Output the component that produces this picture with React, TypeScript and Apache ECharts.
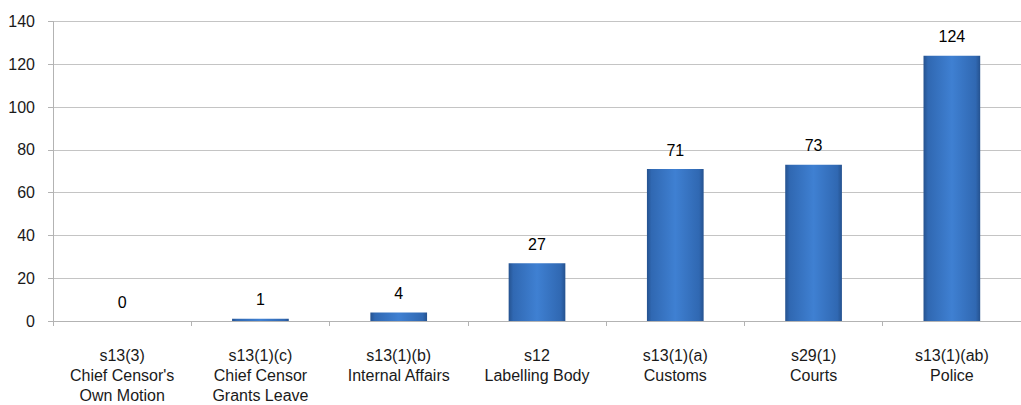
import React, { useEffect, useRef } from "react";
import * as echarts from "echarts";

const categories = [
  "s13(3)\nChief Censor's\nOwn Motion",
  "s13(1)(c)\nChief Censor\nGrants Leave",
  "s13(1)(b)\nInternal Affairs",
  "s12\nLabelling Body",
  "s13(1)(a)\nCustoms",
  "s29(1)\nCourts",
  "s13(1)(ab)\nPolice",
];
const values = [0, 1, 4, 27, 71, 73, 124];
const yTicks = { min: 0, max: 140, interval: 20 };

export default function App() {
  const ref = useRef<HTMLDivElement>(null);
  useEffect(() => {
    if (!ref.current) return;
    const chart = echarts.init(ref.current, undefined, { renderer: "svg" });
    const font = "'Liberation Sans', Arial, sans-serif";
    chart.setOption({
      animation: false,
      backgroundColor: "#ffffff",
      grid: { left: 53, right: -7, top: 21.5, bottom: 82, containLabel: false },
      xAxis: {
        type: "category",
        data: categories,
        boundaryGap: true,
        axisLine: { show: true, lineStyle: { color: "#b3b3b3", width: 1 } },
        axisTick: { show: true, alignWithLabel: false, length: 5, lineStyle: { color: "#b3b3b3" } },
        axisLabel: {
          interval: 0,
          margin: 24,
          color: "#1a1a1a",
          fontFamily: font,
          fontSize: 16,
          lineHeight: 20,
        },
        splitLine: { show: false },
      },
      yAxis: {
        type: "value",
        min: yTicks.min,
        max: yTicks.max,
        interval: yTicks.interval,
        axisLine: { show: true, lineStyle: { color: "#b3b3b3", width: 1 } },
        axisTick: { show: true, length: 5, lineStyle: { color: "#b3b3b3" } },
        axisLabel: { margin: 18, color: "#1a1a1a", fontFamily: font, fontSize: 16 },
        splitLine: { show: true, lineStyle: { color: "#c4c4c4", width: 1 } },
      },
      series: [
        {
          type: "bar",
          data: values,
          barWidth: "41%",
          itemStyle: {
            color: new echarts.graphic.LinearGradient(0, 0, 1, 0, [
              { offset: 0, color: "#25528f" },
              { offset: 0.08, color: "#3068b2" },
              { offset: 0.5, color: "#3f80d2" },
              { offset: 0.92, color: "#3068b2" },
              { offset: 1, color: "#25528f" },
            ]),
            borderWidth: 0,
          },
          label: {
            show: true,
            position: "top",
            distance: 11,
            color: "#000000",
            fontFamily: font,
            fontSize: 16,
          },
        },
      ],
    });
    return () => chart.dispose();
  }, []);
  return (
    <div
      ref={ref}
      style={{ position: "fixed", left: 0, top: 0, width: 1021, height: 405, background: "#fff" }}
    />
  );
}
